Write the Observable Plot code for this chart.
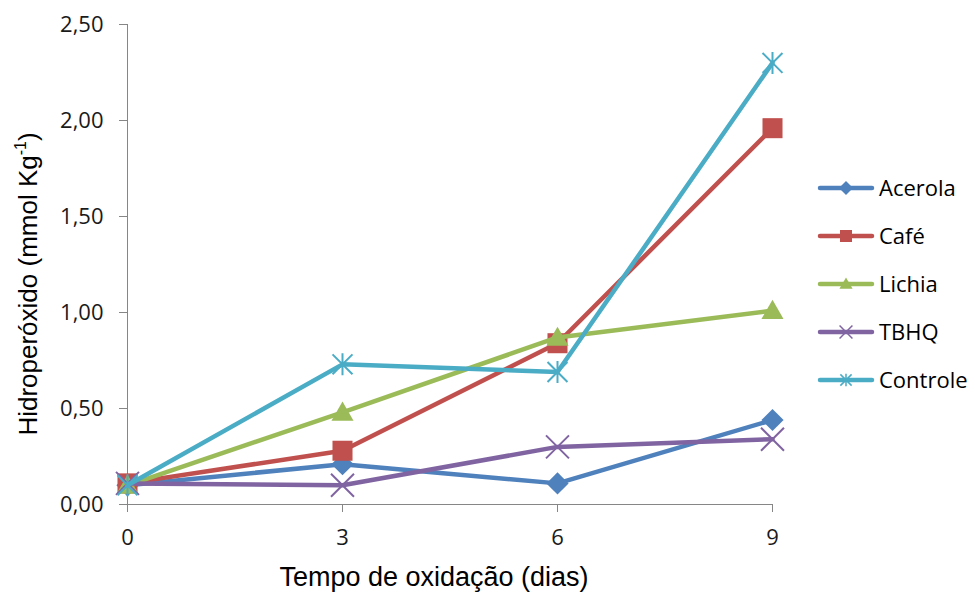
<!DOCTYPE html>
<html>
<head>
<meta charset="utf-8">
<script src="https://cdn.jsdelivr.net/npm/d3@7"></script>
<script src="https://cdn.jsdelivr.net/npm/@observablehq/plot@0.6"></script>
<style>
  html, body { margin: 0; padding: 0; background: #fff; }
  #chart svg { display: block; }
</style>
</head>
<body>
<div id="chart"></div>
<script>
// ---- data ----
const days = [0, 3, 6, 9];
const seriesNames = ["Acerola", "Café", "Lichia", "TBHQ", "Controle"];
const seriesColors = ["#4F81BD", "#C0504D", "#9BBB59", "#8064A2", "#4BACC6"];
const acerola  = [0.10, 0.21, 0.11, 0.44];
const cafe     = [0.11, 0.28, 0.84, 1.96];
const lichia   = [0.10, 0.48, 0.87, 1.01];
const tbhq     = [0.11, 0.10, 0.30, 0.34];
const controle = [0.10, 0.73, 0.69, 2.30];
const yTicks = [0, 0.5, 1, 1.5, 2, 2.5];
const xLabel = "Tempo de oxidação (dias)";
const yLabel = "Hidroperóxido (mmol Kg";

const seriesValues = [acerola, cafe, lichia, tbhq, controle];
const rows = seriesNames.flatMap((s, i) => days.map((d, j) => ({serie: s, day: d, value: seriesValues[i][j]})));

// Excel-like "star" marker: X plus vertical bar
const starSymbol = {
  draw(context, size) {
    const r = Math.sqrt(size / Math.PI);
    const a = r * 0.95;
    context.moveTo(-a, -a); context.lineTo(a, a);
    context.moveTo(-a, a); context.lineTo(a, -a);
    context.moveTo(0, -r * 1.05); context.lineTo(0, r * 1.05);
  }
};

const markerSpecs = [
  {symbol: "diamond2", r: 10, filled: true},
  {symbol: "square", r: 11.3, filled: true},
  {symbol: "triangle", r: 8.2, filled: true, dy: 2},
  {symbol: "times", r: 10.5, filled: false},
  {symbol: starSymbol, r: 10.5, filled: false}
];

const marks = [
  Plot.ruleX([0], {stroke: "#868686", strokeWidth: 1}),
  Plot.ruleY([0], {stroke: "#868686", strokeWidth: 1}),
  Plot.axisY({ticks: yTicks, tickSize: 8, tickPadding: 16, stroke: "#868686", fill: "#1a1a1a",
              tickFormat: d => d3.format(".2f")(d).replace(".", ","), label: null}),
  Plot.axisX({ticks: days, tickSize: 8, tickPadding: 17, stroke: "#868686", fill: "#1a1a1a",
              tickFormat: d => String(d), label: null})
];

seriesNames.forEach((s, i) => {
  const data = rows.filter(r => r.serie === s);
  const m = markerSpecs[i];
  marks.push(Plot.line(data, {x: "day", y: "value", stroke: seriesColors[i], strokeWidth: 4.5,
                              strokeLinejoin: "round", strokeLinecap: "round"}));
  marks.push(Plot.dot(data, {x: "day", y: "value", symbol: m.symbol, r: m.r,
                             dy: m.dy || 0,
                             fill: m.filled ? seriesColors[i] : "none",
                             stroke: m.filled ? "none" : seriesColors[i],
                             strokeWidth: m.filled ? 0 : 2}));
});

const chart = Plot.plot({
  width: 975,
  height: 594,
  marginLeft: 127,
  marginRight: 203,
  marginTop: 24,
  marginBottom: 90,
  style: {fontFamily: "'Open Sans', sans-serif", fontSize: "22px", color: "#1a1a1a", background: "#fff"},
  x: {domain: [0, 9]},
  y: {domain: [0, 2.5]},
  marks
});

document.getElementById("chart").appendChild(chart);

// ---- titles & legend ----
const svg = d3.select(chart);

svg.append("text")
  .attr("x", 434).attr("y", 586)
  .attr("text-anchor", "middle")
  .attr("font-family", "'Liberation Sans', Arial, sans-serif")
  .attr("font-size", 27)
  .attr("fill", "#000")
  .text(xLabel);

const yt = svg.append("text")
  .attr("transform", "translate(37,284) rotate(-90)")
  .attr("text-anchor", "middle")
  .attr("font-family", "'Liberation Sans', Arial, sans-serif")
  .attr("font-size", 26)
  .attr("fill", "#000");
yt.append("tspan").text(yLabel);
yt.append("tspan").attr("font-size", 16).attr("dy", -11).text("-1");
yt.append("tspan").attr("dy", 11).text(")");

const legendSymbols = [
  d3.symbol(d3.symbolDiamond2, 125),
  d3.symbol(d3.symbolSquare, 144),
  d3.symbol(d3.symbolTriangle, 75),
  d3.symbol(d3.symbolTimes, 110),
  d3.symbol(starSymbol, 110)
];
const legendY = [188, 236, 284, 332, 380];
const lg = svg.append("g");
seriesNames.forEach((s, i) => {
  const g = lg.append("g").attr("transform", `translate(0,${legendY[i]})`);
  g.append("line").attr("x1", 820).attr("x2", 872).attr("y1", 0).attr("y2", 0)
    .attr("stroke", seriesColors[i]).attr("stroke-width", 4.5).attr("stroke-linecap", "round");
  const filled = markerSpecs[i].filled;
  g.append("path").attr("d", legendSymbols[i]())
    .attr("transform", `translate(846,${i === 2 ? 1 : 0})`)
    .attr("fill", filled ? seriesColors[i] : "none")
    .attr("stroke", filled ? "none" : seriesColors[i])
    .attr("stroke-width", filled ? 0 : 1.5);
  g.append("text").attr("x", 879).attr("y", 0).attr("dy", "0.35em")
    .attr("font-family", "'Open Sans', sans-serif").attr("font-size", 22)
    .attr("fill", "#000").attr("text-anchor", "start")
    .text(s);
});
</script>
</body>
</html>
